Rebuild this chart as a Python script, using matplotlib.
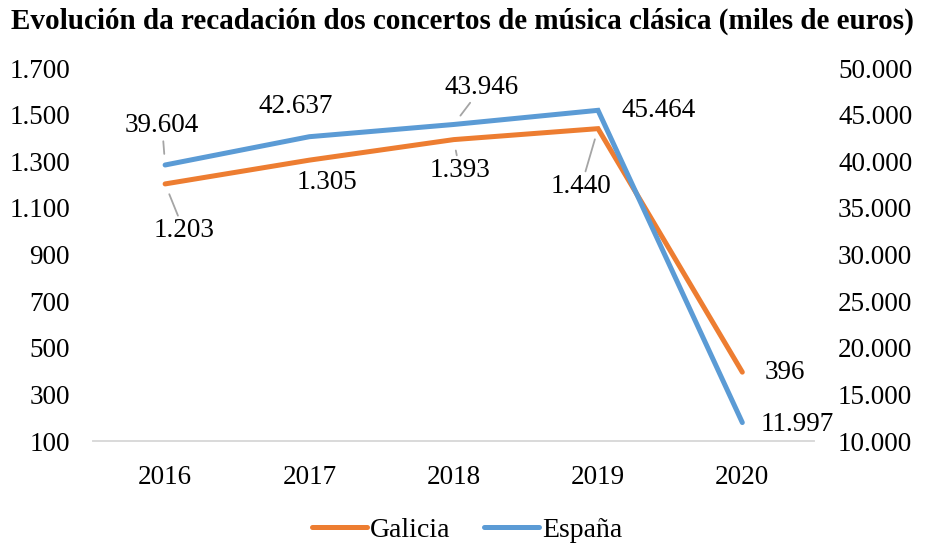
import matplotlib.pyplot as plt
from matplotlib.ticker import FuncFormatter

years = ["2016", "2017", "2018", "2019", "2020"]
galicia = [1203, 1305, 1393, 1440, 396]
espana = [39604, 42637, 43946, 45464, 11997]

# offsets of the data labels (pixels) and whether they get a leader line
gal_offsets = [(19, -47), (18, -22), (6, -31), (-17, -58), (43, 0)]
gal_leader = [True, False, True, True, False]
esp_offsets = [(-3, 39), (-14, 30), (28, 37), (61, 0), (55, -2)]
esp_leader = [True, False, True, False, False]

ORANGE = "#ED7D31"
BLUE = "#5B9BD5"
FS = 19.5

plt.rcParams['font.family'] = ['Liberation Serif', 'DejaVu Serif']


def miles(v, pos=None):
    return f"{int(v):,}".replace(",", ".")


fig = plt.figure(figsize=(9.25, 5.44), dpi=100)
ax = fig.add_axes([0.1005, 0.189, 0.78, 0.686])
ax2 = ax.twinx()

x = list(range(len(years)))
l1, = ax.plot(x, galicia, color=ORANGE, lw=3.6, solid_capstyle='round',
              solid_joinstyle='miter', label="Galicia", zorder=3)
l2, = ax2.plot(x, espana, color=BLUE, lw=3.6, solid_capstyle='round',
               solid_joinstyle='miter', label="España", zorder=3)

ax.set_xlim(-0.5, 4.5)
ax.set_ylim(100, 1700)
ax.set_yticks(range(100, 1701, 200))
ax2.set_ylim(10000, 50000)
ax2.set_yticks(range(10000, 50001, 5000))
ax.set_xticks(x)
ax.set_xticklabels(years)
ax.yaxis.set_major_formatter(FuncFormatter(miles))
ax2.yaxis.set_major_formatter(FuncFormatter(miles))

for a in (ax, ax2):
    for s in ("top", "left", "right"):
        a.spines[s].set_visible(False)
    a.spines["bottom"].set_color("#D9D9D9")
    a.spines["bottom"].set_linewidth(1.2)
    a.tick_params(length=0, labelsize=FS)
ax.tick_params(axis='x', pad=17)
ax.tick_params(axis='y', pad=16.5)
ax2.tick_params(axis='y', pad=17)

line_kw = dict(arrowstyle='-', color='#A5A5A5', lw=1.3, shrinkA=0, shrinkB=8)
for i, v in enumerate(galicia):
    ax.annotate(miles(v), (i, v), xytext=gal_offsets[i], textcoords='offset pixels',
                ha='center', va='center', fontsize=FS,
                arrowprops=line_kw if gal_leader[i] else None)
for i, v in enumerate(espana):
    ax2.annotate(miles(v), (i, v), xytext=esp_offsets[i], textcoords='offset pixels',
                 ha='center', va='center', fontsize=FS,
                 arrowprops=line_kw if esp_leader[i] else None)

fig.legend(handles=[l1, l2], loc='center', bbox_to_anchor=(0.505, 0.026),
           ncol=2, frameon=False, fontsize=20, handlelength=2.0,
           handletextpad=0.1, columnspacing=1.2)

fig.text(0.5, 0.96, "Evolución da recadación dos concertos de música clásica (miles de euros)",
         ha='center', va='center', fontsize=21, fontweight='bold')

fig.savefig("out.png", dpi=100)
